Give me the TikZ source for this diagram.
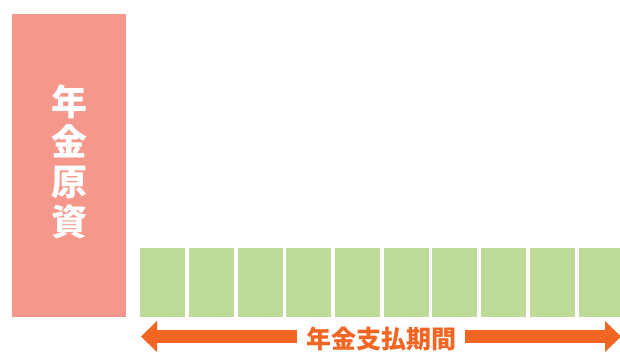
\documentclass[tikz,border=0pt]{standalone}
\usepackage{fontspec}
\newfontfamily\cjk{Noto Sans CJK JP}
\usetikzlibrary{arrows.meta}
\definecolor{fundpink}{HTML}{F5978A}
\definecolor{paygreen}{HTML}{BEDB9A}
\definecolor{periodorange}{HTML}{F26522}
\tikzset{
  fund/.style={fill=fundpink, draw=none, minimum width=114pt, minimum height=303pt, inner sep=0pt},
  payment/.style={fill=paygreen, draw=none, minimum width=45pt, minimum height=69pt, inner sep=0pt, anchor=north west},
  period/.style={line width=13pt, periodorange, -{Triangle[length=16pt, width=30pt]}}
}
\begin{document}
\begin{tikzpicture}[x=1pt, y=-1pt]
  \useasboundingbox (0,0) rectangle (620,352);
  \begin{scope}
  \clip (0,0) rectangle (620,352);

  % fund
  \node[fund] (fund) at (69,165.5) {};
  \node[text=white, align=center, font=\cjk\bfseries\fontsize{36}{40}\selectfont] (fundtext) at (69,162) {年\\金\\原\\資};

  % payments
  \foreach \i in {1,...,10}
    \node[payment] (box\i) at ({140+48.7*(\i-1)},248) {};

  % period
  \node[text=periodorange, inner xsep=9pt, font=\cjk\bfseries\fontsize{25}{28}\selectfont] (period) at (381,339) {年金支払期間};
  \coordinate (ltip) at (141,336.5);
  \coordinate (rtip) at (621,336.5);
  \draw[period] (period.west |- ltip) -- (ltip);
  \draw[period] (period.east |- rtip) -- (rtip);
  \end{scope}
\end{tikzpicture}
\end{document}
